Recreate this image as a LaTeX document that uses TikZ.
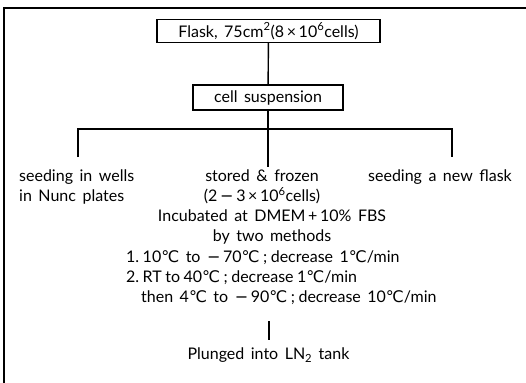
\documentclass[tikz,border=0pt]{standalone}
\usepackage{fontspec}
\setmainfont{Lato}
\newfontfamily\symf{DejaVu Sans}
\newcommand{\dgc}{{\symf ℃}}
\newcommand{\mns}{{\symf −}}
\newcommand{\ns}{\hspace{3.5pt}}
\newcommand{\widewords}{\spaceskip=6.5pt plus 1pt minus 1pt\relax}
\begin{document}
\begin{tikzpicture}[x=1pt,y=-1pt,
  every node/.style={font=\fontsize{16}{20}\selectfont, inner sep=0pt,
    execute at begin node=\widewords},
  boxnode/.style={draw, line width=1.3pt, minimum height=23pt, inner xsep=8pt},
  link/.style={line width=1.4pt},
  frame/.style={line width=1.6pt}]
  \useasboundingbox (0,0) rectangle (526,382);
  % outer frame (only top and left edges fall inside the page)
  \draw[frame] (4,400) -- (4,8) -- (540,8);

  \node[boxnode, minimum width=223pt] (flask) at (268.5,31)
    {Flask, 75cm\textsuperscript{2}(8\,×\,10\textsuperscript{6}cells)};
  \node[boxnode, minimum width=150pt, minimum height=25pt] (cell) at (268,97.5)
    {cell suspension};

  \coordinate (hub) at (268,129);
  \coordinate (bl) at (78,129);
  \coordinate (br) at (452,129);
  \coordinate (dl) at (78,157);
  \coordinate (dm) at (268,167);
  \coordinate (dr) at (452,157);

  \draw[link] (flask) -- (cell);
  \draw[link] (cell) -- (hub);
  \draw[link] (dl) -- (bl) -- (br) -- (dr);
  \draw[link] (hub) -- (dm);

  \node[anchor=north west, align=left] (wells) at (19,170)
    {seeding in wells\\in Nunc plates};
  \node[anchor=north east] (newflask) at (512,170)
    {seeding a new flask};

  \node[anchor=north, align=center] (stored) at (262,170)
    {stored \& frozen\\(2\,\mns\,3\,×\,10\textsuperscript{6}cells)};
  \node[anchor=north, align=center] (incub) at (272,210)
    {Incubated at DMEM\,+\,10\% FBS\\by two methods};
  \node[anchor=north west, align=left] (methods) at (126,250)
    {1.\ns10\dgc{} to \mns\,70\dgc\ns;\ns decrease 1\dgc/min\\
     2.\ns RT\ns to\ns 40\dgc\ns;\ns decrease\ns 1\dgc/min\\
     \hspace*{15pt}then 4\dgc{} to \mns\,90\dgc\ns;\ns decrease 10\dgc/min};

  \coordinate (mt) at (269,321);
  \coordinate (mb) at (269,340);
  \draw[link] (mt) -- (mb);

  \node (plunged) at (268.5,355) {Plunged into LN\textsubscript{2} tank};
\end{tikzpicture}
\end{document}
